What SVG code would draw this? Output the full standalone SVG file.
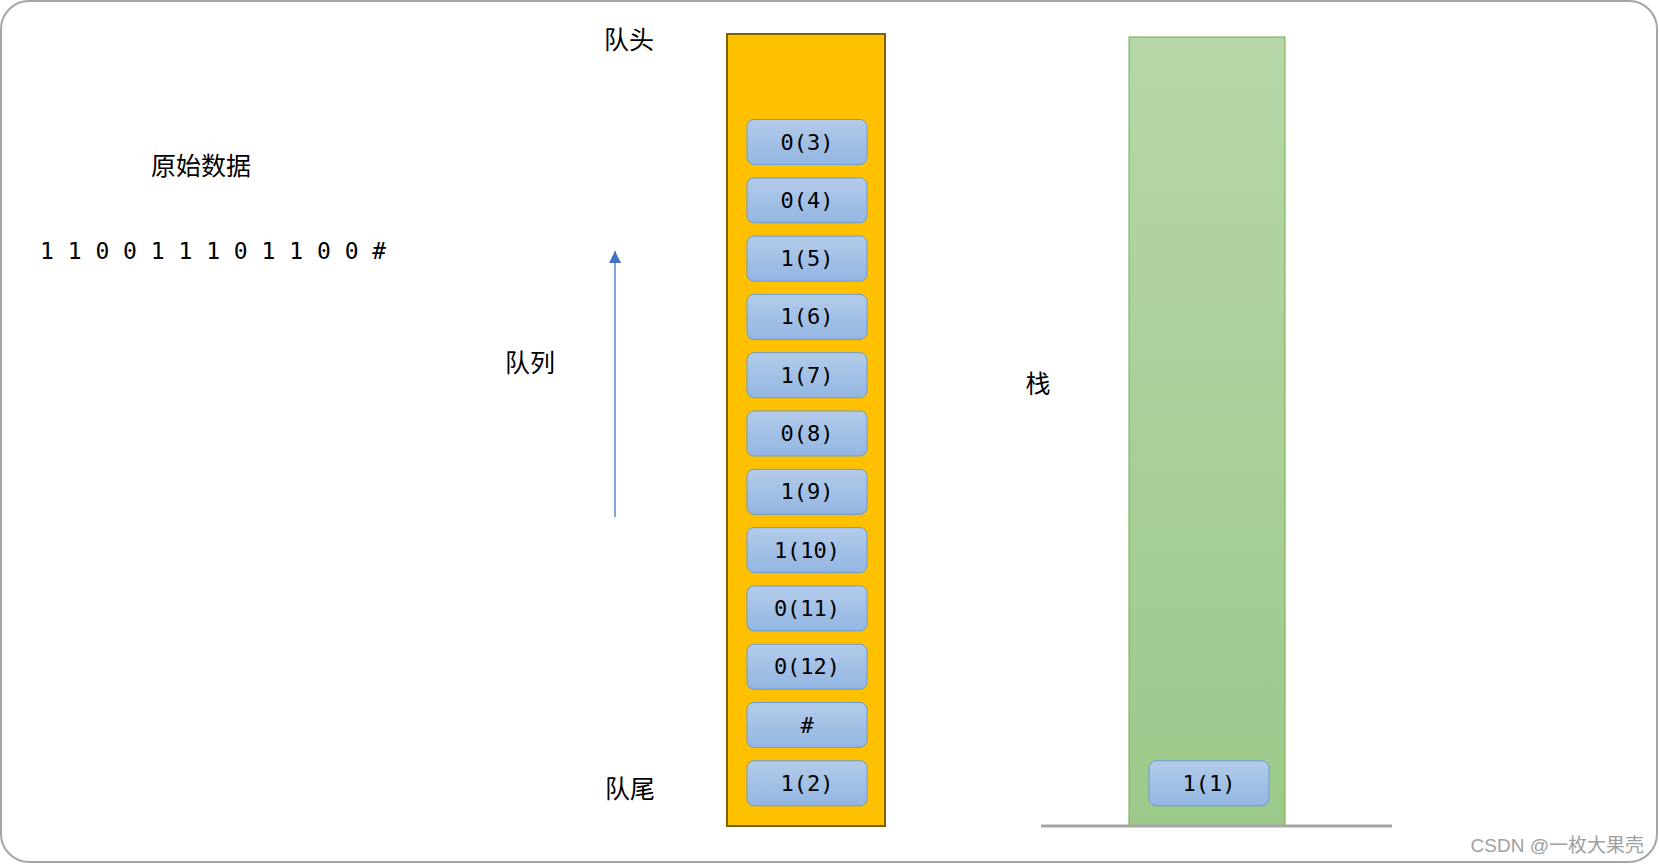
<svg xmlns="http://www.w3.org/2000/svg" width="1659" height="864" viewBox="0 0 1659 864">
<style>
.cn{font-family:"Noto Sans CJK SC","Noto Sans",sans-serif;font-size:25px;fill:#000;text-anchor:middle;dominant-baseline:central}
.mono{font-family:"DejaVu Sans Mono","Liberation Mono",monospace;font-size:22px;fill:#000;text-anchor:middle;dominant-baseline:central}
.box{fill:url(#gb);stroke:#6c9bd2;stroke-width:1}
</style>
<defs>
<linearGradient id="gb" x1="0" y1="0" x2="0" y2="1"><stop offset="0" stop-color="#b3cbe9"/><stop offset="1" stop-color="#93b6e2"/></linearGradient>
<linearGradient id="gg" x1="0" y1="0" x2="0" y2="1"><stop offset="0" stop-color="#b6d7a8"/><stop offset="1" stop-color="#9cc98a"/></linearGradient>
<marker id="ah" viewBox="0 0 10 10" refX="10" refY="5" markerUnits="userSpaceOnUse" markerWidth="12" markerHeight="12" orient="auto"><path d="M0,0L10,5L0,10z" fill="#4472c4"/></marker>
</defs>
<rect x="1" y="1" width="1656" height="861" rx="28" fill="#fff" stroke="#a6a6a6" stroke-width="2"/>
<g id="labels">
<text class="cn" x="201" y="164">原始数据</text>
<text x="40" y="251" font-family="DejaVu Sans Mono, monospace" font-size="23" dominant-baseline="central" fill="#000" xml:space="preserve">1 1 0 0 1 1 1 0 1 1 0 0 #</text>
<text class="cn" x="629" y="38">队头</text>
<text class="cn" x="530" y="361">队列</text>
<text class="cn" x="630" y="787">队尾</text>
<text class="cn" x="1038" y="382">栈</text>
</g>
<g id="connectors">
<line x1="615" y1="517" x2="615" y2="251" stroke="#4472c4" stroke-width="1.3" marker-end="url(#ah)"/>
</g>
<g id="queue">
<rect x="727" y="34" width="158" height="792" fill="#ffc000" stroke="#7f6000" stroke-width="2"/>
</g>
<g id="stack">
<rect x="1129" y="37" width="156" height="789" fill="url(#gg)" stroke="#70ad47" stroke-width="1"/>
<line x1="1041" y1="826" x2="1392" y2="826" stroke="#a6a6a6" stroke-width="3"/>
</g>
<g id="q3"><rect class="box" x="747" y="119.5" width="120" height="45" rx="7"/><text class="mono" x="807" y="142">0(3)</text></g>
<g id="q4"><rect class="box" x="747" y="177.8" width="120" height="45" rx="7"/><text class="mono" x="807" y="200.3">0(4)</text></g>
<g id="q5"><rect class="box" x="747" y="236.1" width="120" height="45" rx="7"/><text class="mono" x="807" y="258.6">1(5)</text></g>
<g id="q6"><rect class="box" x="747" y="294.4" width="120" height="45" rx="7"/><text class="mono" x="807" y="316.9">1(6)</text></g>
<g id="q7"><rect class="box" x="747" y="352.7" width="120" height="45" rx="7"/><text class="mono" x="807" y="375.2">1(7)</text></g>
<g id="q8"><rect class="box" x="747" y="411" width="120" height="45" rx="7"/><text class="mono" x="807" y="433.5">0(8)</text></g>
<g id="q9"><rect class="box" x="747" y="469.3" width="120" height="45" rx="7"/><text class="mono" x="807" y="491.8">1(9)</text></g>
<g id="q10"><rect class="box" x="747" y="527.6" width="120" height="45" rx="7"/><text class="mono" x="807" y="550.1">1(10)</text></g>
<g id="q11"><rect class="box" x="747" y="585.9" width="120" height="45" rx="7"/><text class="mono" x="807" y="608.4">0(11)</text></g>
<g id="q12"><rect class="box" x="747" y="644.2" width="120" height="45" rx="7"/><text class="mono" x="807" y="666.7">0(12)</text></g>
<g id="qh"><rect class="box" x="747" y="702.5" width="120" height="45" rx="7"/><text class="mono" x="807" y="725">#</text></g>
<g id="q2"><rect class="box" x="747" y="760.8" width="120" height="45" rx="7"/><text class="mono" x="807" y="783.3">1(2)</text></g>
<g id="s1"><rect class="box" x="1149" y="760.8" width="120" height="45" rx="7"/><text class="mono" x="1209" y="783.3">1(1)</text></g>
<text x="1644" y="845" text-anchor="end" dominant-baseline="central" font-family="Liberation Sans, Noto Sans CJK SC, sans-serif" font-size="19" fill="#a0a0a0">CSDN @一枚大果壳</text>
</svg>
